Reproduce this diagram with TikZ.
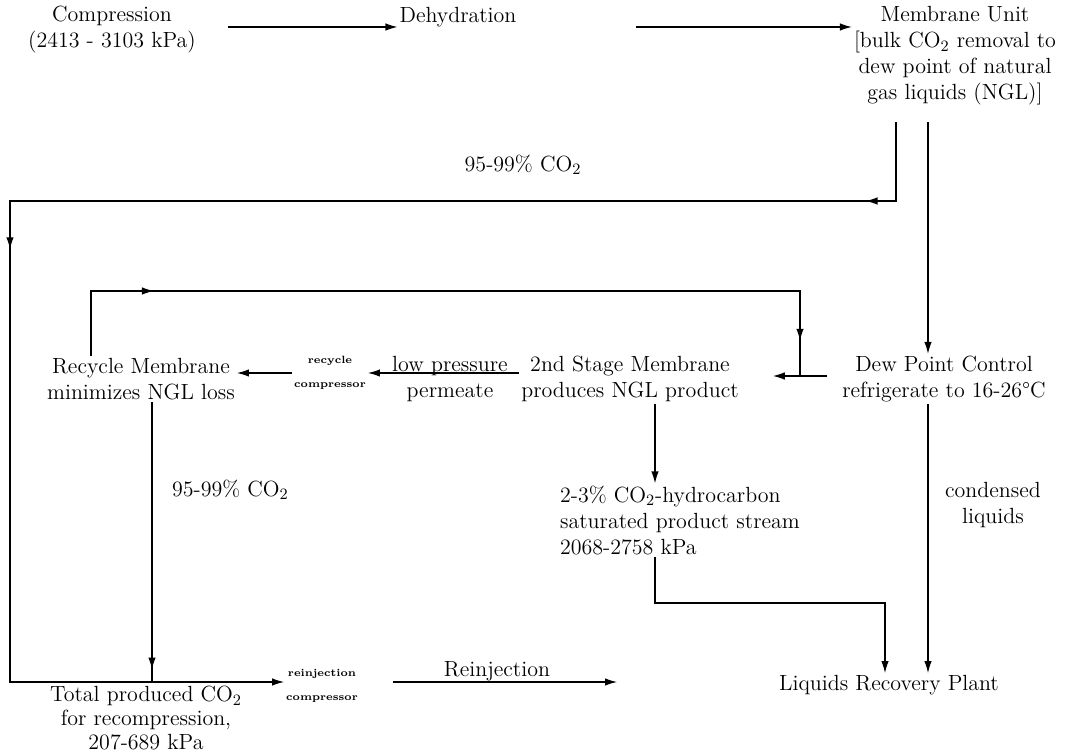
\documentclass[tikz,border=0pt]{standalone}
\usepackage{tikz}
\usetikzlibrary{arrows.meta,positioning,decorations.markings}

\begin{document}
\begin{tikzpicture}[
  x=0.02cm, y=-0.02cm,
  txt/.style={align=center, font=\fontsize{12.5}{14.8}\selectfont, inner sep=1pt},
  tiny/.style={align=center, font=\fontsize{6}{14}\selectfont\bfseries, inner sep=1pt},
  arr/.style={draw, line width=0.7pt, -{Latex[length=2.4mm,width=1.5mm]}},
  ln/.style={draw, line width=0.7pt},
  midtip/.style={postaction={decorate, decoration={markings,
      mark=at position #1 with {\arrow{Latex[length=2.4mm,width=1.5mm]}}}}}
]
\useasboundingbox (0,0) rectangle (1069,756);

\node[txt] (comp)   at (112,30)  {Compression\\(2413 - 3103 kPa)};
\node[txt] (dehyd)  at (458,17)  {Dehydration};
\node[txt] (memb)   at (955,56)  {Membrane Unit\\{[}bulk CO$_2$ removal to\\dew point of natural\\gas liquids (NGL)]};
\node[txt] (co2a)   at (523,165) {95-99\% CO$_2$};

\node[txt]  (recyc)  at (141,379) {Recycle Membrane\\minimizes NGL loss};
\node[tiny] (rcomp)  at (330,373) {recycle\\compressor};
\node[txt]  (lowp)   at (450,379) {low pressure\\permeate};
\node[txt]  (stage2) at (630,379) {2nd Stage Membrane\\produces NGL product};
\node[txt]  (dew)    at (944,379) {Dew Point Control\\refrigerate to 16-26\textdegree C};

\node[txt, anchor=west] (co2b) at (170,490) {95-99\% CO$_2$};
\node[txt, align=left, anchor=west] (prod) at (558,520)
  {2-3\% CO$_2$-hydrocarbon\\saturated product stream\\2068-2758 kPa};
\node[txt] (cond) at (993,505) {condensed\\liquids};

\node[txt, font=\fontsize{12.5}{13.4}\selectfont] (total) at (146,718)
  {Total produced CO$_2$\\for recompression,\\207-689 kPa};
\node[tiny] (rinj)  at (322,686) {reinjection\\compressor};
\node[txt]  (reinj) at (497,671) {Reinjection};
\node[txt]  (lrp)   at (889,685) {Liquids Recovery Plant};

\coordinate (toprow) at (0,27);
\coordinate (tl) at (10,201);
\coordinate (bl) at (10,682);
\coordinate (rtop) at (800,291);
\coordinate (jn) at (800,376);
\coordinate (pj) at (885,603);
\coordinate (outlet) at (617,682);
\coordinate (mL) at ([xshift=-1.18cm,yshift=-0.3cm]memb.south);
\coordinate (mR) at ([xshift=-0.54cm,yshift=-0.3cm]memb.south);

\draw[arr, shorten <=0.6cm] (comp.east |- toprow) -- (dehyd.west |- toprow);
\draw[arr, shorten <=2.36cm] (dehyd.east |- toprow) -- (memb.west |- toprow);
\draw[arr, midtip=2.18cm, midtip=20.26cm] (mL) |- (tl) -- (bl) -- (rinj.west |- bl);
\draw[arr] (mR) -- (mR |- dew.north);
\draw[arr, shorten <=0.26cm, shorten >=0.64cm] (dew.west |- jn) -- (stage2.east |- jn);
\draw[ln, midtip=2.56cm, midtip=16.48cm] ([xshift=-1cm]recyc.north) |- (rtop) -- (jn);
\draw[arr] (rcomp.west) -- (recyc.east |- rcomp.west);
\draw[arr] (stage2.west |- rcomp.east) -- (rcomp.east);
\draw[ln, midtip=-0.25cm] ([xshift=0.22cm]recyc.south) -- ([xshift=0.22cm]recyc.south |- bl);
\draw[arr, shorten <=0.66cm] (rinj.east |- outlet) -- (outlet);
\draw[arr] ([xshift=0.5cm]stage2.south) -- ([xshift=0.5cm]stage2.south |- prod.north);
\draw[arr] ([xshift=0.5cm]stage2.south |- prod.south) |- (pj) -- (pj |- lrp.north);
\draw[arr] ([xshift=-0.32cm]dew.south) -- ([xshift=-0.32cm]dew.south |- lrp.north);
\end{tikzpicture}
\end{document}
